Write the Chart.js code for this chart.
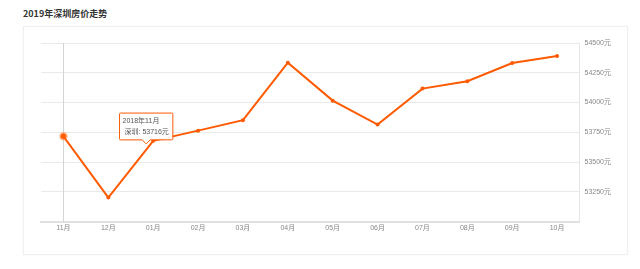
<!DOCTYPE html>
<html>
<head>
<meta charset="utf-8">
<script src="https://cdn.jsdelivr.net/npm/chart.js@4/dist/chart.umd.min.js"></script>
<style>
  html, body { margin: 0; padding: 0; background: #fff; }
  body { width: 640px; height: 269px; position: relative; overflow: hidden;
         font-family: 'Liberation Sans', 'Noto Sans CJK SC', sans-serif; }
  h1 { position: absolute; left: 23px; top: 8px; margin: 0; font-size: 9px; font-weight: bold; color: #333;
       font-family: 'Noto Sans CJK SC', sans-serif; line-height: 12px; }
  .card { position: absolute; left: 23px; top: 26px; width: 605px; height: 229px;
          border: 1px solid #f0f0f0; box-shadow: 0 0 2px rgba(0,0,0,0.04); box-sizing: border-box; }
  .card canvas { position: absolute; left: 0; top: 0; }
</style>
</head>
<body>
<h1>2019年深圳房价走势</h1>
<div class="card"><canvas id="priceChart" width="605" height="229"></canvas></div>
<script>
const months = ['11月', '12月', '01月', '02月', '03月', '04月', '05月', '06月', '07月', '08月', '09月', '10月'];
const fullMonths = ['2018年11月', '2018年12月', '2019年01月', '2019年02月', '2019年03月', '2019年04月',
                    '2019年05月', '2019年06月', '2019年07月', '2019年08月', '2019年09月', '2019年10月'];
const seriesName = '深圳';
const prices = [53716, 53202, 53678, 53764, 53852, 54335, 54016, 53815, 54117, 54179, 54332, 54391];
const yTicks = [53000, 53250, 53500, 53750, 54000, 54250, 54500];

const orange = '#ff5a00';
const tickFont = { family: "'Liberation Sans', 'Noto Sans CJK SC', sans-serif", size: 7 };

// tooltip sits just left of the point two steps to the right, like in the screenshot
Chart.Tooltip.positioners.nextPoint = function (elements) {
    if (!elements.length) return false;
    const meta = this.chart.getDatasetMeta(0);
    const p = meta.data[Math.min(elements[0].index + 2, meta.data.length - 1)];
    return { x: p.x - 7, y: p.y + 3 };
};

// vertical hover line at the active month
const hoverLine = {
    id: 'hoverLine',
    beforeDatasetsDraw(chart) {
        const act = chart.getActiveElements();
        if (!act.length) return;
        const x = chart.scales.x.getPixelForValue(act[0].index);
        const area = chart.chartArea;
        const ctx = chart.ctx;
        ctx.save();
        ctx.strokeStyle = '#d4d4d4';
        ctx.lineWidth = 1;
        ctx.beginPath();
        ctx.moveTo(Math.round(x) + 0.5, area.top);
        ctx.lineTo(Math.round(x) + 0.5, area.bottom);
        ctx.stroke();
        ctx.restore();
    }
};

const ctx = document.getElementById('priceChart').getContext('2d');
const chart = new Chart(ctx, {
    type: 'line',
    data: {
        labels: months,
        datasets: [{
            label: seriesName,
            data: prices,
            borderColor: orange,
            backgroundColor: orange,
            borderWidth: 2,
            tension: 0,
            pointRadius: 2,
            pointBorderWidth: 0,
            pointHoverRadius: 3,
            pointHoverBackgroundColor: orange,
            pointHoverBorderColor: 'rgba(255, 120, 40, 0.35)',
            pointHoverBorderWidth: 3
        }]
    },
    options: {
        responsive: false,
        animation: false,
        events: [],
        layout: { padding: { left: 17, top: 16, right: 13, bottom: 22 } },
        plugins: {
            legend: { display: false },
            tooltip: {
                position: 'nextPoint',
                xAlign: 'center',
                yAlign: 'bottom',
                backgroundColor: 'rgba(255,255,255,0.95)',
                borderColor: orange,
                borderWidth: 1,
                cornerRadius: 1,
                caretSize: 4,
                caretPadding: 0,
                padding: { top: 4, bottom: 4, left: 3, right: 4 },
                displayColors: false,
                titleColor: '#555',
                bodyColor: '#555',
                titleFont: { family: tickFont.family, size: 7, weight: 'normal' },
                bodyFont: { family: tickFont.family, size: 7 },
                titleMarginBottom: 2,
                bodyAlign: 'right',
                callbacks: {
                    title: items => fullMonths[items[0].dataIndex],
                    label: item => ' ' + seriesName + ': ' + item.raw + '元'
                }
            }
        },
        scales: {
            x: {
                offset: true,
                grid: { display: false, drawTicks: false },
                border: { color: '#e0e0e0', width: 2 },
                ticks: { color: '#888', font: tickFont, padding: 2, maxRotation: 0, autoSkip: false }
            },
            y: {
                position: 'right',
                min: yTicks[0],
                max: yTicks[yTicks.length - 1],
                afterBuildTicks: axis => { axis.ticks = yTicks.map(v => ({ value: v })); },
                grid: { color: '#e9e9e9', lineWidth: 1, drawTicks: false },
                border: { color: '#e6e6e6', width: 1 },
                ticks: {
                    color: '#888',
                    font: tickFont,
                    padding: 5,
                    callback: v => v === yTicks[0] ? '' : v + '元'
                }
            }
        }
    },
    plugins: [hoverLine]
});

chart.setActiveElements([{ datasetIndex: 0, index: 0 }]);
chart.tooltip.setActiveElements([{ datasetIndex: 0, index: 0 }], { x: 0, y: 0 });
chart.update();
</script>
</body>
</html>
